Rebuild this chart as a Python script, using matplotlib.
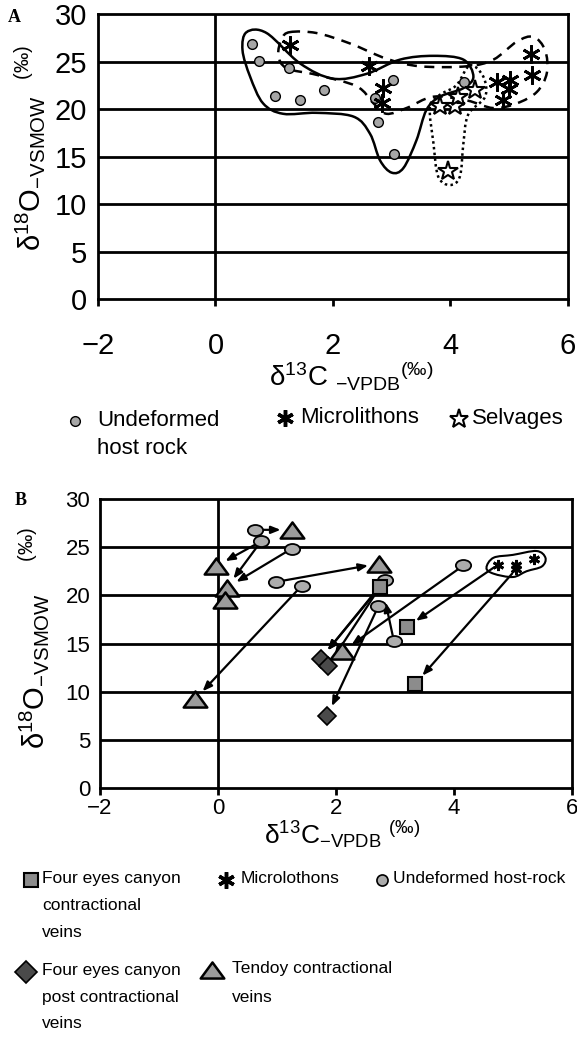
import matplotlib
matplotlib.use("Agg")
import matplotlib.pyplot as plt
import numpy as np
from matplotlib.path import Path
from matplotlib.patches import PathPatch
from matplotlib.lines import Line2D

plt.rcParams['font.family'] = ['Liberation Sans', 'DejaVu Sans']
plt.rcParams['mathtext.fontset'] = 'custom'
plt.rcParams['mathtext.rm'] = 'Liberation Sans'
plt.rcParams['mathtext.it'] = 'Liberation Sans:italic'
plt.rcParams['mathtext.bf'] = 'Liberation Sans:bold'
SANS = ['Liberation Sans', 'DejaVu Sans']

# ---- panel A data ----
a_host_x = [0.62, 0.74, 1.25, 1.02, 1.44, 1.85, 3.02, 2.76, 3.03, 4.23, 2.72]
a_host_y = [26.8, 25.1, 24.3, 21.4, 20.9, 22.0, 23.1, 18.6, 15.3, 22.8, 21.2]
a_micro_x = [1.26, 2.62, 2.85, 2.83, 4.79, 5.01, 5.00, 4.90, 5.37, 5.39]
a_micro_y = [26.7, 24.5, 22.2, 20.6, 22.8, 23.1, 22.1, 20.9, 25.8, 23.6]
a_selv_x = [3.82, 4.08, 4.12, 4.42, 3.96]
a_selv_y = [20.3, 20.3, 21.3, 22.0, 13.5]

# field outlines (hand-drawn envelopes)
host_env_x = [0.53, 0.87, 1.44, 2.00, 2.57, 3.14, 3.71, 4.22, 4.39, 4.22, 3.82, 3.59,
              3.42, 3.20, 3.00, 2.80, 2.63, 2.35, 1.72, 1.15, 0.81, 0.59, 0.46]
host_env_y = [28.1, 28.0, 24.8, 23.2, 23.7, 25.2, 25.6, 25.2, 23.4, 22.2, 21.3, 19.9,
              16.7, 13.8, 13.3, 14.6, 17.4, 19.2, 19.6, 19.5, 20.6, 23.4, 26.2]
micro_env_x = [1.27, 1.72, 2.29, 2.91, 3.48, 4.28, 4.73, 5.13, 5.41, 5.61, 5.64, 5.47,
               5.13, 4.73, 4.28, 3.71, 3.25, 2.91, 2.69, 2.40, 1.72, 1.21, 1.07, 1.13]
micro_env_y = [28.1, 28.0, 26.9, 25.3, 24.5, 24.5, 25.2, 27.1, 27.6, 26.2, 23.8, 21.8,
               20.6, 20.1, 20.9, 21.3, 20.1, 19.5, 20.6, 22.4, 23.6, 24.3, 25.7, 27.4]
selv_env_x = [4.33, 4.56, 4.59, 4.30, 4.22, 4.16, 3.99, 3.79, 3.71, 3.65, 3.82, 4.10]
selv_env_y = [24.6, 23.4, 21.3, 19.4, 16.4, 12.9, 12.0, 12.9, 16.4, 20.2, 21.5, 22.5]

# ---- panel B data ----
b_host_x = [0.63, 0.73, 1.25, 0.99, 1.42, 2.83, 2.72, 2.98, 4.16]
b_host_y = [26.8, 25.6, 24.85, 21.4, 21.0, 21.6, 18.9, 15.3, 23.1]
b_tendoy_x = [1.25, -0.04, 0.15, 0.12, 2.73, 2.11, -0.39]
b_tendoy_y = [26.8, 23.0, 20.8, 19.55, 23.3, 14.2, 9.2]
b_fec_x = [2.75, 3.20, 3.34]
b_fec_y = [20.9, 16.7, 10.8]
b_post_x = [1.74, 1.87, 1.85]
b_post_y = [13.4, 12.7, 7.45]
b_micro_x = [4.75, 5.05, 5.05, 5.36]
b_micro_y = [23.2, 23.2, 22.7, 23.8]
micro_b_env_x = [4.55, 4.67, 5.00, 5.40, 5.55, 5.49, 5.23, 5.00, 4.67]
micro_b_env_y = [22.85, 23.9, 24.2, 24.6, 23.9, 23.0, 22.5, 21.9, 22.25]

# arrows: start -> end
arr_x0 = [0.63, 0.73, 0.73, 1.25, 0.99, 1.42, 2.75, 2.75, 2.83, 2.72, 2.98, 4.16, 4.75, 5.05]
arr_y0 = [26.8, 25.6, 25.6, 24.85, 21.4, 21.0, 20.9, 20.9, 21.6, 18.9, 15.3, 23.1, 23.2, 22.7]
arr_x1 = [1.25, -0.04, 0.15, 0.15, 2.73, -0.39, 1.74, 1.87, 1.74, 1.85, 2.80, 2.11, 3.20, 3.34]
arr_y1 = [26.8, 23.0, 20.8, 20.8, 23.3, 9.2, 13.4, 12.7, 13.4, 7.45, 20.4, 14.2, 16.7, 10.8]

xticks = [-2, 0, 2, 4, 6]
yticks = [0, 5, 10, 15, 20, 25, 30]


def envelope(ax, xs, ys, **kw):
    # closed smooth outline through the given points
    P = np.column_stack([xs, ys])
    n = len(P)
    verts = [P[0]]
    codes = [Path.MOVETO]
    for i in range(n):
        p0, p1, p2, p3 = P[i - 1], P[i], P[(i + 1) % n], P[(i + 2) % n]
        verts += [p1 + (p2 - p0) / 6, p2 - (p3 - p1) / 6, p2]
        codes += [Path.CURVE4] * 3
    ax.add_patch(PathPatch(Path(verts, codes), fill=False, color='k', **kw))


def frame(ax, tsize, xpad, ypad):
    ax.set_xlim(-2, 6)
    ax.set_ylim(0, 30)
    ax.set_xticks(xticks)
    ax.set_yticks(yticks)
    ax.set_xticklabels(['\u2212' + str(-t) if t < 0 else str(t) for t in xticks])
    for s in ax.spines.values():
        s.set_linewidth(2)
    for yv in yticks[1:-1]:
        ax.axhline(yv, color='k', lw=2, zorder=1)
    ax.axvline(0, color='k', lw=2, zorder=1)
    ax.tick_params(axis='x', direction='out', length=5, width=2, pad=xpad, labelsize=tsize)
    ax.tick_params(axis='y', length=0, pad=ypad, labelsize=tsize)


fig = plt.figure(figsize=(5.77, 10.40), dpi=100)

# ---------------- panel A ----------------
axA = fig.add_axes([0.1698, 0.7125, 0.8146, 0.274])
frame(axA, 21, 19, 8)
envelope(axA, host_env_x, host_env_y, lw=1.8, zorder=2)
envelope(axA, micro_env_x, micro_env_y, lw=1.8, ls=(0, (4, 3)), zorder=2)
envelope(axA, selv_env_x, selv_env_y, lw=1.8, ls=(0, (1, 1.3)), zorder=2)
axA.plot(a_host_x, a_host_y, 'o', ms=7, mfc='#a6a6a6', mec='k', mew=1, zorder=4)
axA.plot(a_micro_x, a_micro_y, ls='none', marker=(6, 2, 0), ms=13, mec='k', mew=2, zorder=4)
axA.plot(a_selv_x, a_selv_y, '*', ms=15, mfc='white', mec='k', mew=1.5, zorder=5)

axA.text(0.538, -0.27, 'δ$^{\\mathrm{13}}$C $_{\\mathrm{-VPDB}}$$^{\\mathrm{(‰)}}$',
         transform=axA.transAxes, ha='center', va='center', fontsize=20)
axA.text(-0.145, 0.53, 'δ$^{\\mathrm{18}}$O$_{\\mathrm{-VSMOW}}$  $^{\\mathrm{(‰)}}$',
         transform=axA.transAxes, ha='center', va='center', rotation=90, fontsize=21)
fig.text(0.014, 1 - 18 / 1040, 'A', family='Liberation Serif', weight='bold', fontsize=13,
         va='center')

# ---------------- panel B ----------------
axB = fig.add_axes([0.1733, 0.2423, 0.818, 0.2779])
frame(axB, 16, 2, 7)
envelope(axB, micro_b_env_x, micro_b_env_y, lw=1.5, zorder=2)
for x0, y0, x1, y1 in zip(arr_x0, arr_y0, arr_x1, arr_y1):
    axB.annotate('', xy=(x1, y1), xytext=(x0, y0),
                 arrowprops=dict(arrowstyle='-|>,head_length=0.55,head_width=0.22',
                                 color='k', lw=1.6, shrinkA=4, shrinkB=8), zorder=3)

uc = Path.unit_circle()
ellipse = Path(uc.vertices * [1.0, 0.72], uc.codes)
tri = Path([(0, 0.75), (-1.1, -0.75), (1.1, -0.75), (0, 0.75)],
           [Path.MOVETO, Path.LINETO, Path.LINETO, Path.CLOSEPOLY])
axB.plot(b_host_x, b_host_y, ls='none', marker=ellipse, ms=11, mfc='#acacac', mec='k', mew=1.3, zorder=5)
axB.plot(b_tendoy_x, b_tendoy_y, ls='none', marker=tri, ms=17, mfc='#9c9c9c', mec='k', mew=1.8, zorder=5)
axB.plot(b_fec_x, b_fec_y, 's', ms=10, mfc='#8c8c8c', mec='k', mew=1.5, zorder=6)
axB.plot(b_post_x, b_post_y, 'D', ms=9, mfc='#4a4a4a', mec='k', mew=1.2, zorder=6)
axB.plot(b_micro_x, b_micro_y, ls='none', marker=(6, 2, 0), ms=8, mec='k', mew=2, zorder=5)

axB.text(0.513, -0.16, 'δ$^{\\mathrm{13}}$C$_{\\mathrm{-VPDB}}$ $^{\\mathrm{(‰)}}$',
         transform=axB.transAxes, ha='center', va='center', fontsize=19)
axB.text(-0.14, 0.52, 'δ$^{\\mathrm{18}}$O$_{\\mathrm{-VSMOW}}$    $^{\\mathrm{(‰)}}$',
         transform=axB.transAxes, ha='center', va='center', rotation=90, fontsize=21)
fig.text(0.026, 1 - 500 / 1040, 'B', family='Liberation Serif', weight='bold', fontsize=13,
         va='center')


# ---------------- legends ----------------
def fx(px):
    return px / 577


def fy(py):
    return 1 - py / 1040


def key(mx, my, tx, label, size, spacing, **mk):
    fig.add_artist(Line2D([fx(mx)], [fy(my)], transform=fig.transFigure, ls='none', **mk))
    top = my - 0.5 * size * 100 / 72
    fig.text(fx(tx), fy(top), label, family=SANS, fontsize=size, va='top',
             linespacing=spacing, transform=fig.transFigure)


# A legend
key(75, 421, 97, 'Undeformed\nhost rock', 16, 1.45,
    marker='o', ms=7, mfc='#a6a6a6', mec='k', mew=1)
key(285, 418, 300, 'Microlithons', 16, 1.45,
    marker=(6, 2, 0), ms=12, mec='k', mew=2.5)
key(459, 419, 472, 'Selvages', 16, 1.45,
    marker='*', ms=14, mfc='white', mec='k', mew=1.5)

# B legend
key(31, 880, 42, 'Four eyes canyon\ncontractional\nveins', 12.5, 2.0,
    marker='s', ms=10, mfc='#8c8c8c', mec='k', mew=1.5)
key(226, 880, 241, 'Microlothons', 12.5, 2.0,
    marker=(6, 2, 0), ms=12, mec='k', mew=2.5)
key(382, 880, 393, 'Undeformed host-rock', 12.5, 2.0,
    marker='o', ms=8, mfc='#acacac', mec='k', mew=1.2)
key(26, 972, 42, 'Four eyes canyon\npost contractional\nveins', 12.5, 1.95,
    marker='D', ms=11, mfc='#4a4a4a', mec='k', mew=1.2)
key(212, 970, 232, 'Tendoy contractional\nveins', 12.5, 2.1,
    marker=tri, ms=17, mfc='#9c9c9c', mec='k', mew=1.8)

fig.savefig('out.png', dpi=100)
